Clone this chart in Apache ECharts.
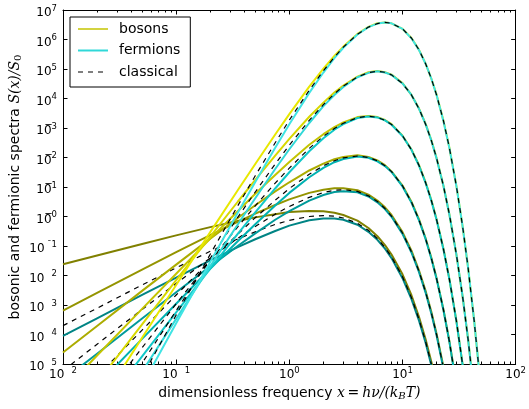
<!DOCTYPE html>
<html>
<head>
<meta charset="utf-8">
<script src="https://cdn.jsdelivr.net/npm/echarts@6/dist/echarts.min.js"></script>
<style>
  html, body { margin: 0; padding: 0; background: #fff; }
  #chart { width: 529px; height: 409px; }
</style>
</head>
<body>
<div id="chart"></div>
<script>
// Dimensionless frequency grid x = h nu / (k_B T) shared by every curve
const freq = [0.01, 0.02, 0.05, 0.1, 0.2, 0.35, 0.5, 0.75, 1, 1.5, 2, 2.5, 3, 4, 5, 6, 7, 8,
              10, 12, 14, 16, 18, 20, 23, 26, 30, 34, 38, 43, 48, 54];

// Spectra S(x)/S0 in decades (log10), one array per exponent n and statistics.
// Each array follows freq from its start and stops once the curve leaves the plot.
const bosons2    = [-1.62,-1.32,-0.93,-0.64,-0.36,-0.15,-0.03,0.08,0.15,0.19,0.18,0.13,0.05,-0.14,-0.39,-0.67,-0.97,-1.29,-1.96,-2.67,-3.41,-4.16,-4.93,-5.70];
const fermions2  = [-4.05,-3.45,-2.66,-2.07,-1.49,-1.04,-0.77,-0.49,-0.31,-0.13,-0.07,-0.07,-0.11,-0.28,-0.52,-0.79,-1.09,-1.41,-2.09,-2.80,-3.53,-4.28,-5.05];
const classical2 = [-3.70,-3.11,-2.32,-1.74,-1.18,-0.76,-0.52,-0.27,-0.13,0.00,0.03,0.01,-0.05,-0.23,-0.47,-0.75,-1.05,-1.37,-2.04,-2.75,-3.49,-4.24,-5.01];

const bosons3    = [-3.19,-2.59,-1.80,-1.21,-0.63,-0.18,0.10,0.39,0.58,0.80,0.91,0.96,0.96,0.89,0.74,0.54,0.31,0.05,-0.53,-1.16,-1.83,-2.52,-3.24,-3.97,-5.09];
const fermions3  = [-5.55,-4.65,-3.46,-2.57,-1.69,-1.00,-0.57,-0.11,0.18,0.54,0.73,0.83,0.86,0.82,0.68,0.48,0.25,-0.01,-0.59,-1.22,-1.89,-2.58,-3.30,-4.03,-5.15];
const classical3 = [-5.23,-4.33,-3.15,-2.27,-1.41,-0.74,-0.34,0.08,0.34,0.65,0.81,0.89,0.91,0.85,0.70,0.51,0.27,0.01,-0.56,-1.20,-1.86,-2.56,-3.27,-4.00,-5.13];

const bosons4    = [-4.61,-3.71,-2.52,-1.63,-0.75,-0.05,0.38,0.85,1.16,1.56,1.79,1.94,2.02,2.08,2.02,1.90,1.74,1.53,1.05,0.50,-0.10,-0.74,-1.40,-2.09,-3.15,-4.24,-5.72];
const fermions4  = [-6.94,-5.73,-4.15,-2.96,-1.77,-0.84,-0.26,0.37,0.80,1.33,1.65,1.84,1.95,2.03,1.99,1.87,1.71,1.51,1.02,0.47,-0.13,-0.76,-1.43,-2.11,-3.17,-4.26,-5.75];
const classical4 = [-6.62,-5.42,-3.85,-2.66,-1.50,-0.60,-0.04,0.55,0.95,1.43,1.72,1.89,1.99,2.05,2.00,1.89,1.72,1.52,1.04,0.49,-0.12,-0.75,-1.42,-2.10,-3.16,-4.25,-5.74];

const bosons5    = [-5.92,-4.71,-3.13,-1.94,-0.75,0.18,0.77,1.41,1.85,2.43,2.79,3.03,3.19,3.37,3.41,3.37,3.27,3.13,2.74,2.27,1.74,1.16,0.55,-0.09,-1.09,-2.13,-3.56,-5.02];
const fermions5  = [-8.23,-6.73,-4.74,-3.25,-1.77,-0.59,0.14,0.95,1.50,2.21,2.65,2.94,3.13,3.34,3.39,3.36,3.26,3.11,2.73,2.26,1.72,1.14,0.53,-0.11,-1.11,-2.14,-3.57,-5.04];
const classical5 = [-7.93,-6.42,-4.45,-2.96,-1.50,-0.35,0.36,1.13,1.64,2.31,2.72,2.98,3.16,3.35,3.40,3.36,3.26,3.12,2.74,2.26,1.73,1.15,0.54,-0.10,-1.10,-2.14,-3.56,-5.03];

const bosons6    = [-7.14,-5.64,-3.66,-2.16,-0.68,0.50,1.24,2.06,2.63,3.38,3.86,4.20,4.44,4.74,4.89,4.93,4.89,4.81,4.52,4.12,3.66,3.14,2.58,1.98,1.04,0.06,-1.31,-2.72,-4.16,-6.01];
const fermions6  = [-9.45,-7.65,-5.26,-3.47,-1.69,-0.27,0.62,1.61,2.28,3.17,3.74,4.12,4.39,4.72,4.87,4.92,4.88,4.80,4.51,4.12,3.65,3.13,2.57,1.97,1.04,0.05,-1.31,-2.72,-4.17,-6.02];
const classical6 = [-9.15,-7.35,-4.97,-3.19,-1.42,-0.03,0.83,1.78,2.42,3.26,3.79,4.16,4.42,4.73,4.88,4.92,4.89,4.80,4.51,4.12,3.65,3.13,2.57,1.98,1.04,0.06,-1.31,-2.72,-4.17,-6.02];

const bosons7    = [-8.30,-6.49,-4.11,-2.32,-0.53,0.89,1.78,2.78,3.47,4.40,5.01,5.44,5.76,6.19,6.43,6.55,6.58,6.55,6.36,6.05,5.65,5.18,4.67,4.13,3.25,2.32,1.02,-0.34,-1.74,-3.54,-5.37];
const fermions7  = [-10.60,-8.50,-5.72,-3.62,-1.54,0.13,1.17,2.33,3.13,4.19,4.88,5.37,5.72,6.17,6.42,6.54,6.58,6.55,6.36,6.04,5.64,5.18,4.67,4.12,3.24,2.31,1.01,-0.34,-1.74,-3.54,-5.38];
const classical7 = [-10.30,-8.20,-5.43,-3.34,-1.28,0.36,1.38,2.50,3.27,4.28,4.94,5.40,5.74,6.18,6.42,6.54,6.58,6.55,6.36,6.05,5.65,5.18,4.67,4.12,3.25,2.32,1.01,-0.34,-1.74,-3.54,-5.38];

// Axis decades
const xDecades = [-2, -1, 0, 1, 2];
const yDecades = [-5, -4, -3, -2, -1, 0, 1, 2, 3, 4, 5, 6, 7];

// Line colours, darkest for the lowest exponent
const bosonColors   = ['#808000', '#949400', '#acac00', '#c4c400', '#d8d800', '#e8e800'];
const fermionColors = ['#008484', '#009a9a', '#00b2b2', '#10c8c8', '#30d8d8', '#40e4e4'];

const families = [
  [bosons2, fermions2, classical2],
  [bosons3, fermions3, classical3],
  [bosons4, fermions4, classical4],
  [bosons5, fermions5, classical5],
  [bosons6, fermions6, classical6],
  [bosons7, fermions7, classical7]
];

const toPoints = dex => dex.map((v, i) => [freq[i], Math.pow(10, v)]);

const series = [];
families.forEach(([b, f, c], k) => {
  series.push({
    name: 'bosons', type: 'line', data: toPoints(b), showSymbol: false, symbol: 'none',
    clip: true, lineStyle: { color: bosonColors[k], width: 2 }, itemStyle: { color: bosonColors[k] },
    emphasis: { disabled: true }, silent: true
  });
  series.push({
    name: 'fermions', type: 'line', data: toPoints(f), showSymbol: false, symbol: 'none',
    clip: true, lineStyle: { color: fermionColors[k], width: 2 }, itemStyle: { color: fermionColors[k] },
    emphasis: { disabled: true }, silent: true
  });
  series.push({
    name: 'classical', type: 'line', data: toPoints(c), showSymbol: false, symbol: 'none',
    clip: true, lineStyle: { color: '#000', width: 1.2, type: [5, 5] }, itemStyle: { color: '#000' },
    emphasis: { disabled: true }, silent: true
  });
});

// Log-spaced minor tick positions (in decades) for the frequency axis
const minorX = [];
for (let m = xDecades[0]; m < xDecades[xDecades.length - 1]; m++) {
  for (let k = 2; k <= 9; k++) minorX.push(m + Math.log10(k));
}

const FONT = 'DejaVu Sans';
const tickRich = {
  b: { fontFamily: FONT, fontSize: 12, color: '#000', lineHeight: 14, verticalAlign: 'bottom' },
  s: { fontFamily: FONT, fontSize: 8.5, color: '#000', lineHeight: 10, verticalAlign: 'bottom', padding: [0, 0, 6, 0] },
  h: { fontFamily: FONT, fontSize: 8.5, color: 'rgba(0,0,0,0)', lineHeight: 10, verticalAlign: 'bottom', padding: [0, 0, 6, 0] }
};

function xTickLabel(e) {
  if (e < 0) return '{b|10}{h|\u2212}{s|' + (-e) + '}';
  return '{b|10}{s|' + e + '}';
}
function yTickLabel(e) {
  if (e >= 4) return '{b|10}{s|' + e + '}';
  if (e >= 0) return '{b|10\u0305}{s|' + e + '}';
  if (e === -1) return '{b|10}{s| \u00af1}';
  return '{b|10}{h|\u2212}{s|' + (-e) + '}';
}

const blackTick = (len, values) => ({
  show: true, inside: true, length: len, customValues: values,
  lineStyle: { color: '#000', width: 1 }
});
const noLabel = { show: false };
const noSplit = { show: false };
const frame = { show: true, onZero: false, lineStyle: { color: '#000', width: 1 } };
const hidden = { show: false, onZero: false };

// Decade axes that carry ticks and labels (positions in decades)
const decadeX = (pos, withLabels) => ({
  type: 'value', min: xDecades[0], max: xDecades[xDecades.length - 1], interval: 1, position: pos,
  axisLine: hidden, axisTick: blackTick(4.5, xDecades),
  axisLabel: withLabels ? { margin: 3, formatter: xTickLabel, rich: tickRich, customValues: xDecades } : noLabel,
  splitLine: noSplit
});
const minorAxisX = pos => ({
  type: 'value', min: xDecades[0], max: xDecades[xDecades.length - 1], position: pos,
  axisLine: hidden, axisTick: blackTick(2.5, minorX), axisLabel: noLabel, splitLine: noSplit
});
const decadeY = (pos, withLabels) => ({
  type: 'value', min: yDecades[0], max: yDecades[yDecades.length - 1], interval: 1, position: pos,
  axisLine: hidden, axisTick: blackTick(4.5, yDecades),
  axisLabel: withLabels ? { margin: 6, formatter: yTickLabel, rich: tickRich, padding: [4, 0, 0, 0], customValues: yDecades } : noLabel,
  splitLine: noSplit
});

const option = {
  animation: false,
  backgroundColor: '#fff',
  grid: { left: 63, right: 8, top: 10, bottom: 45, containLabel: false },
  legend: {
    left: 70, top: 17, orient: 'vertical',
    data: [
      { name: 'bosons', lineStyle: { color: '#c4c400', width: 1.5 } },
      { name: 'fermions', lineStyle: { color: '#30d8d8', width: 2 } },
      { name: 'classical', lineStyle: { color: '#000', width: 1.2, type: [5, 5] } }
    ],
    itemStyle: { opacity: 0 },
    itemWidth: 30, itemHeight: 14, itemGap: 7.5,
    padding: [5, 10, 8, 7],
    borderColor: '#000', borderWidth: 1, borderRadius: 0, backgroundColor: '#fff',
    textStyle: { fontFamily: FONT, fontSize: 14, color: '#000', padding: [0, 0, 0, 6], lineHeight: 14 },
    selectedMode: false
  },
  xAxis: [
    {
      // data axis for the frequency
      type: 'log', logBase: 10, min: Math.pow(10, xDecades[0]), max: Math.pow(10, xDecades[xDecades.length - 1]),
      position: 'bottom', axisLine: frame, axisTick: { show: false }, axisLabel: noLabel, splitLine: noSplit,
      name: '{t|dimensionless frequency }{m|x\u2009=\u2009h\u03bd/(k}{sub|B}{m|T)}',
      nameLocation: 'middle', nameGap: 22,
      nameTextStyle: {
        rich: {
          t: { fontFamily: FONT, fontSize: 14, color: '#000' },
          m: { fontFamily: 'DejaVu Serif', fontStyle: 'italic', fontSize: 14, color: '#000' },
          sub: { fontFamily: 'DejaVu Serif', fontStyle: 'italic', fontSize: 10, color: '#000', padding: [5, 0, 0, 0] }
        }
      }
    },
    {
      type: 'value', min: 0, max: 1, position: 'top',
      axisLine: frame, axisTick: { show: false }, axisLabel: noLabel, splitLine: noSplit
    },
    decadeX('bottom', true),
    decadeX('top', false),
    minorAxisX('bottom'),
    minorAxisX('top')
  ],
  yAxis: [
    {
      // data axis for the spectra
      type: 'log', logBase: 10, min: Math.pow(10, yDecades[0]), max: Math.pow(10, yDecades[yDecades.length - 1]),
      position: 'left', axisLine: frame, axisTick: { show: false }, axisLabel: noLabel, splitLine: noSplit,
      name: '{t|bosonic and fermionic spectra }{m|S(x)/S}{sub|0}',
      nameLocation: 'middle', nameGap: 40, nameRotate: 90,
      nameTextStyle: {
        rich: {
          t: { fontFamily: FONT, fontSize: 14, color: '#000' },
          m: { fontFamily: 'DejaVu Serif', fontStyle: 'italic', fontSize: 14, color: '#000' },
          sub: { fontFamily: 'DejaVu Serif', fontSize: 10, color: '#000', padding: [5, 0, 0, 0] }
        }
      }
    },
    {
      type: 'value', min: 0, max: 1, position: 'right',
      axisLine: frame, axisTick: { show: false }, axisLabel: noLabel, splitLine: noSplit
    },
    decadeY('left', true),
    decadeY('right', false)
  ],
  series: series
};

const chart = echarts.init(document.getElementById('chart'), null, { renderer: 'canvas' });
chart.setOption(option);
</script>
</body>
</html>
